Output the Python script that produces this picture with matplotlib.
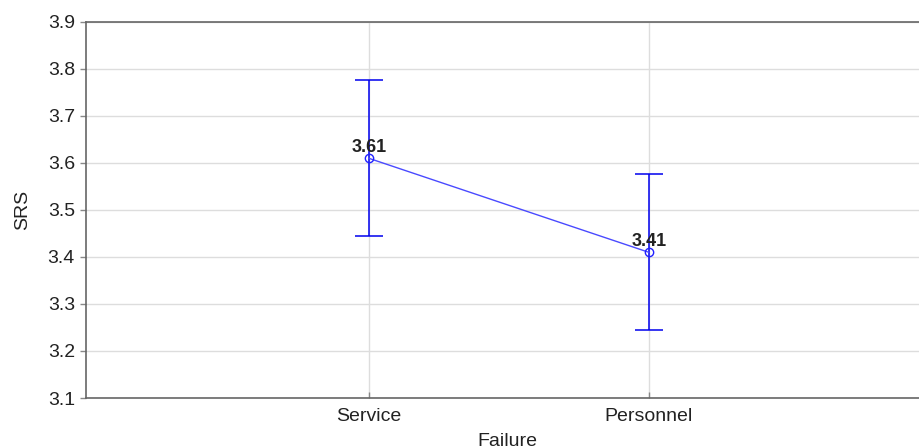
import matplotlib
matplotlib.use("Agg")
import matplotlib.pyplot as plt

# group means and 95% CI half-widths
categories = ["Service", "Personnel"]
means = [3.61, 3.41]
ci_half = [0.166, 0.166]
yticks = [3.1, 3.2, 3.3, 3.4, 3.5, 3.6, 3.7, 3.8, 3.9]

plt.rcParams['font.family'] = ['Liberation Sans', 'DejaVu Sans']

fig = plt.figure(figsize=(9.2, 4.48), dpi=100)
ax = fig.add_axes([0.0935, 0.1116, 0.916, 0.8394])

xs = list(range(1, len(categories) + 1))

ax.errorbar(xs, means, yerr=ci_half, fmt='none', ecolor='#0000ee',
            elinewidth=1.1, capsize=10, capthick=1.1, zorder=3)
ax.plot(xs, means, color='#4a4aff', lw=1.0, marker='o', ms=6,
        mfc='none', mec='#2020ff', mew=1.0, zorder=4)

for x, m in zip(xs, means):
    ax.text(x, m + 0.004, f"{m:.2f}", ha='center', va='bottom',
            fontsize=13, fontweight='bold', color='#222222', zorder=5)

ax.set_xlim(-0.01, 3)
ax.set_ylim(3.1, 3.9)
ax.set_xticks(xs)
ax.set_xticklabels(categories)
ax.set_yticks(yticks)
ax.set_yticklabels([f"{t:.1f}" for t in yticks])

ax.grid(True, color='#dddddd', lw=1.0, zorder=0)
ax.set_axisbelow(True)

for side in ['left', 'top', 'bottom']:
    ax.spines[side].set_color('#666666')
    ax.spines[side].set_linewidth(1.2)
ax.spines['right'].set_visible(False)

ax.tick_params(axis='y', direction='out', length=4, width=1,
               color='#888888', labelsize=14, labelcolor='#222222', pad=4)
ax.tick_params(axis='x', direction='in', length=4, width=1,
               color='#888888', labelsize=14, labelcolor='#222222', pad=7)

ax.set_ylabel("SRS", fontsize=14, color='#222222', labelpad=12)
ax.set_xlabel("Failure", fontsize=14, color='#222222', labelpad=6)

fig.savefig("out.png", dpi=100)
